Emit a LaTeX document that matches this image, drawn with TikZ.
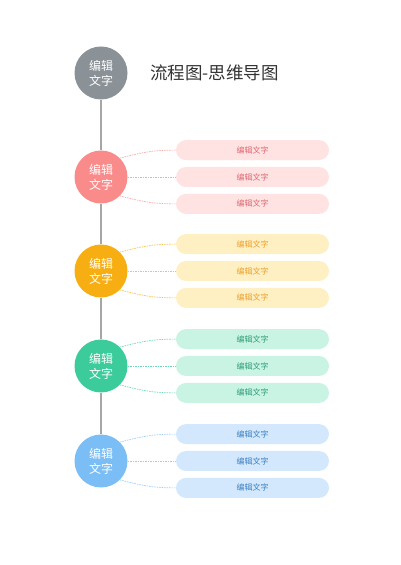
\documentclass[tikz,border=0pt]{standalone}
\usepackage{fontspec}
\newfontfamily\cjk{Noto Sans CJK SC}
\usetikzlibrary{positioning}
\definecolor{gry}{HTML}{8A9298}
\definecolor{pnk}{HTML}{F98B8B}
\definecolor{pnkL}{HTML}{FFE3E3}
\definecolor{pnkT}{HTML}{DD6670}
\definecolor{yel}{HTML}{F7AE12}
\definecolor{yelL}{HTML}{FEF0C3}
\definecolor{yelT}{HTML}{EDA02A}
\definecolor{grn}{HTML}{3CCB9A}
\definecolor{grnL}{HTML}{C9F3E3}
\definecolor{grnT}{HTML}{2E9C78}
\definecolor{blu}{HTML}{7BBDF5}
\definecolor{bluL}{HTML}{D3E8FC}
\definecolor{bluT}{HTML}{3A7FC0}
\tikzset{topic/.style={circle, minimum size=53pt, inner sep=0pt, text=white, align=center, font=\cjk\fontsize{12}{15}\selectfont}}
\tikzset{item/.style={rounded corners=10pt, minimum width=153pt, minimum height=20pt, inner sep=0pt, font=\cjk\fontsize{8}{9}\selectfont}}
\tikzset{connect/.style={draw, line width=0.7pt, dash pattern=on 1.5pt off 1pt}}
\tikzset{spine/.style={draw=gray!70, line width=1.2pt}}

\begin{document}
\begin{tikzpicture}[x=1pt,y=1pt]
\useasboundingbox (0,0) rectangle (400,565);
\node[topic,fill=gry] (top) at (101,492) {编辑\\文字};
\node[anchor=west, inner sep=0pt, text=black!80, font=\cjk\fontsize{17.5}{20}\selectfont] (title) at (150,492) {流程图-思维导图};
\foreach \n/\y/\c in {a/388/pnk,b/294/yel,c/199/grn,d/104/blu} {
  \node[topic,fill=\c] (\n) at (101,\y) {编辑\\文字};
  \node[item,fill=\c L,text=\c T] (\n2) at (252.5,\y) {编辑文字};
  \node[item,fill=\c L,text=\c T,above=6.5pt of \n2] (\n1) {编辑文字};
  \node[item,fill=\c L,text=\c T,below=6.5pt of \n2] (\n3) {编辑文字};
  \path[connect,draw=\c!75] (\n.45) to[out=15,in=180] (\n1.west);
  \path[connect,draw=\c!75] (\n) -- (\n2);
  \path[connect,draw=\c!75] (\n.-45) to[out=-15,in=180] (\n3.west);
}
\path[spine] (top) -- (a) (a) -- (b) (b) -- (c) (c) -- (d);
\end{tikzpicture}
\end{document}
